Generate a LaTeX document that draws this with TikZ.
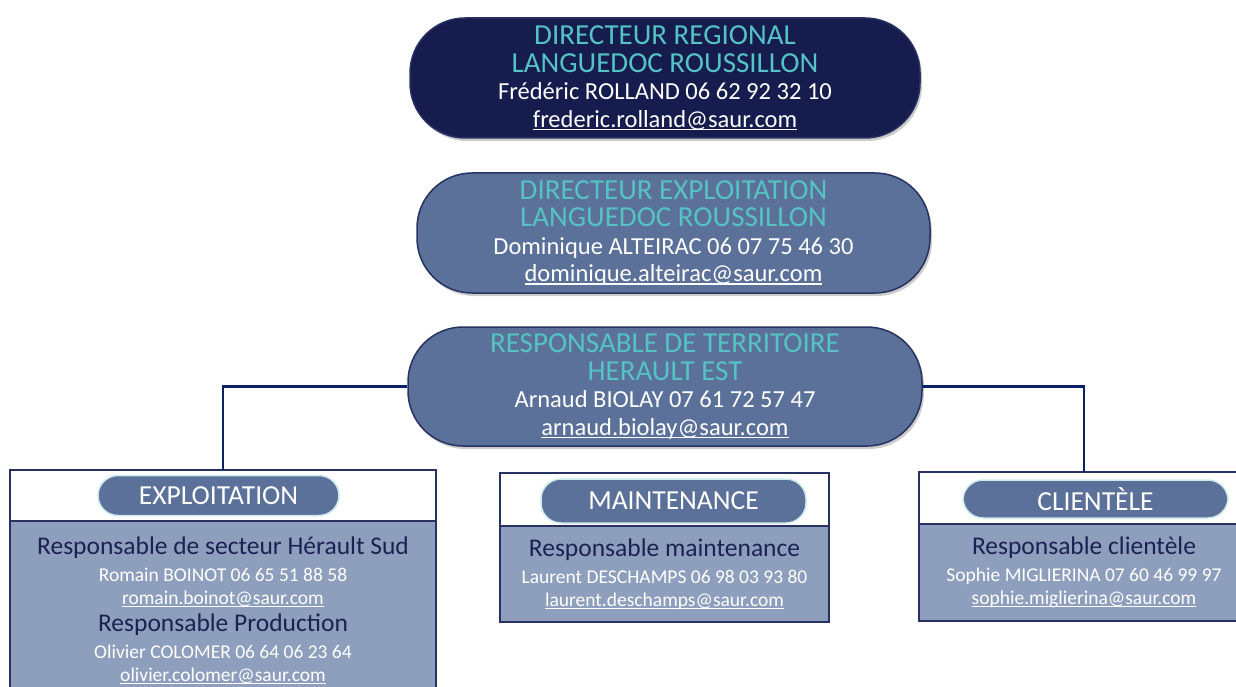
\documentclass[tikz,border=0pt]{standalone}
\usepackage{fontspec}
\setmainfont{Carlito}
\usetikzlibrary{positioning}
\usetikzlibrary{shadows}

\definecolor{regionnavy}{HTML}{161C4E}
\definecolor{steelblue}{HTML}{5B7199}
\definecolor{lightsteel}{HTML}{8E9FBD}
\definecolor{titleteal}{HTML}{55C3C3}
\definecolor{linknavy}{HTML}{082265}
\definecolor{framenavy}{HTML}{283262}
\definecolor{roletext}{HTML}{1B2152}
\definecolor{tabedge}{HTML}{CBEAEA}

\newsavebox{\mailbox}
\newcommand{\tightlines}{\setlength{\lineskiplimit}{-5pt}}
\newcommand{\headline}[1]{{\color{titleteal}\fontsize{29}{27.5}\selectfont #1}}
\newcommand{\rolename}[1]{{\color{roletext}\fontsize{25.5}{27}\selectfont #1}}
\newcommand{\mailline}[1]{\sbox{\mailbox}{#1}\rlap{\rule[-0.12em]{\wd\mailbox}{0.05em}}\usebox{\mailbox}}

\tikzset{
  headpill/.style={rectangle, rounded corners=55pt, minimum width=512pt, minimum height=120pt,
    draw=framenavy, line width=1.5pt, fill=steelblue, align=center, text=white,
    font=\fontsize{24.5}{27.5}\selectfont\tightlines,
    drop shadow={shadow xshift=2pt, shadow yshift=-3pt, opacity=0.2, fill=black}},
  tab/.style={rectangle, rounded corners=20pt, minimum height=40pt, fill=steelblue,
    draw=tabedge, line width=1.5pt, text=white, font=\fontsize{27.5}{30}\selectfont},
  header/.style={rectangle, draw=framenavy, line width=1.5pt, fill=white, outer sep=0pt},
  body/.style={rectangle, draw=framenavy, line width=1.5pt, fill=lightsteel, outer sep=0pt,
    align=center, text=white, font=\fontsize{19.5}{23}\selectfont\tightlines},
  link/.style={draw=linknavy, line width=2.5pt}
}

\begin{document}
\begin{tikzpicture}[x=1pt,y=-1pt]
  \useasboundingbox (0,0) rectangle (1236,687);
  \clip (0,0) rectangle (1236,687);

  % management
  \node[headpill, fill=regionnavy, minimum width=510pt] (region) at (665,78)
    {\headline{DIRECTEUR REGIONAL}\\ \headline{LANGUEDOC ROUSSILLON}\\
     Frédéric ROLLAND 06 62 92 32 10\\ \mailline{frederic.rolland@saur.com}};
  \node[headpill, minimum width=513pt] (exploit) at (673.5,233)
    {\headline{DIRECTEUR EXPLOITATION}\\ \headline{LANGUEDOC ROUSSILLON}\\
     Dominique ALTEIRAC 06 07 75 46 30\\ \mailline{dominique.alteirac@saur.com}};
  \node[headpill, minimum width=514pt, minimum height=119pt] (terr) at (665,386.5)
    {\headline{RESPONSABLE DE TERRITOIRE}\\ \headline{HERAULT EST}\\
     Arnaud BIOLAY 07 61 72 57 47\\ \mailline{arnaud.biolay@saur.com}};

  % services
  \node[body, minimum width=426pt, minimum height=179pt, anchor=north] (explbody) at (223,521)
    {\rolename{Responsable de secteur Hérault Sud}\\[4pt]
     Romain BOINOT 06 65 51 88 58\\ \mailline{romain.boinot@saur.com}\\[4pt]
     \rolename{Responsable Production}\\[4pt]
     Olivier COLOMER 06 64 06 23 64\\ \mailline{olivier.colomer@saur.com}};
  \node[header, minimum width=426pt, minimum height=51pt, above=0pt of explbody] (explhead) {};
  \node[tab, minimum width=241pt, xshift=-4.5pt] (expltab) at (explhead.center) {EXPLOITATION};

  \node[body, minimum width=329pt, minimum height=96pt, anchor=north] (maintbody) at (664.5,526)
    {\rolename{Responsable maintenance}\\[4pt]
     Laurent DESCHAMPS 06 98 03 93 80\\ \mailline{laurent.deschamps@saur.com}};
  \node[header, minimum width=329pt, minimum height=53pt, above=0pt of maintbody] (mainthead) {};
  \node[tab, minimum width=265pt, minimum height=44pt, xshift=9pt, yshift=-1.5pt] (mainttab) at (mainthead.center) {MAINTENANCE};

  \node[body, minimum width=330pt, minimum height=97pt, anchor=north] (cliebody) at (1084,524)
    {\rolename{Responsable clientèle}\\[4pt]
     Sophie MIGLIERINA 07 60 46 99 97\\ \mailline{sophie.miglierina@saur.com}};
  \node[header, minimum width=330pt, minimum height=52pt, above=0pt of cliebody] (cliehead) {};
  \node[tab, minimum width=265pt, minimum height=38pt, xshift=11.5pt, yshift=-1pt] (clietab) at (cliehead.center) {CLIENTÈLE};

  % links
  \draw[link] (terr.west) -| (explhead.north);
  \draw[link] (terr.east) -| (cliehead.north);
\end{tikzpicture}
\end{document}
